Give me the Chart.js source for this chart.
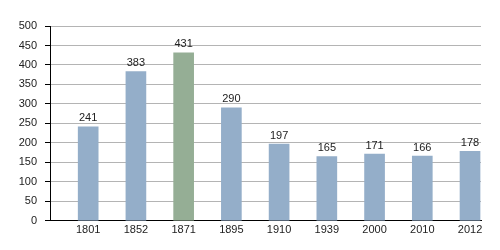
<!DOCTYPE html>
<html>
<head>
<meta charset="utf-8">
<script src="https://cdn.jsdelivr.net/npm/chart.js@4/dist/chart.umd.min.js"></script>
<style>
  html, body { margin: 0; padding: 0; background: #fff; }
  #wrap { width: 500px; height: 250px; }
</style>
</head>
<body>
<div id="wrap"><canvas id="myChart" width="500" height="250"></canvas></div>
<script>
// years and population counts
const years = ["1801", "1852", "1871", "1895", "1910", "1939", "2000", "2010", "2012"];
const population = [241, 383, 431, 290, 197, 165, 171, 166, 178];
const yTicks = [0, 50, 100, 150, 200, 250, 300, 350, 400, 450, 500];

const blue = "#94aec9";
const green = "#95ae95";

const points = [];
const colors = [];
for (let i = 0; i < years.length; i++) {
  points.push({ x: i, y: population[i] });
  colors.push(years[i] === "1871" ? green : blue);
}

// value written above each bar
const barLabels = {
  id: "barLabels",
  afterDatasetsDraw(chart) {
    const ctx = chart.ctx;
    const meta = chart.getDatasetMeta(0);
    ctx.save();
    ctx.font = "11px 'Liberation Sans', Arial, sans-serif";
    ctx.fillStyle = "#222";
    ctx.textAlign = "center";
    ctx.textBaseline = "bottom";
    meta.data.forEach((bar, i) => {
      ctx.fillText(String(population[i]), bar.x, bar.y - 3);
    });
    ctx.restore();
  },
};

const config = {
  type: "bar",
  data: {
    datasets: [
      {
        data: points,
        backgroundColor: colors,
        borderWidth: 0,
        barThickness: 20,
      },
    ],
  },
  options: {
    responsive: false,
    animation: false,
    layout: { padding: { top: 26, right: 19, bottom: 10, left: 0 } },
    plugins: {
      legend: { display: false },
      tooltip: { enabled: false },
    },
    scales: {
      x: {
        type: "linear",
        min: -0.8,
        max: 8.23,
        offset: false,
        grid: { display: false, drawTicks: false },
        border: { display: true, color: "#000", width: 1 },
        afterBuildTicks: (axis) => {
          axis.ticks = years.map((y, i) => ({ value: i }));
        },
        ticks: {
          autoSkip: false,
          maxRotation: 0,
          padding: 3,
          color: "#222",
          font: { family: "'Liberation Sans', Arial, sans-serif", size: 11 },
          callback: (value) => years[value],
        },
      },
      y: {
        min: 0,
        max: 500,
        afterBuildTicks: (axis) => {
          axis.ticks = yTicks.map((v) => ({ value: v }));
        },
        afterFit: (axis) => {
          axis.width = 50;
        },
        grid: { color: "#b4b4b4", tickColor: "#000", tickLength: 5, lineWidth: 1 },
        border: { display: true, color: "#000", width: 1 },
        ticks: {
          padding: 8,
          color: "#222",
          font: { family: "'Liberation Sans', Arial, sans-serif", size: 11 },
        },
      },
    },
  },
  plugins: [barLabels],
};

const myChart = new Chart(document.getElementById("myChart"), config);
</script>
</body>
</html>
